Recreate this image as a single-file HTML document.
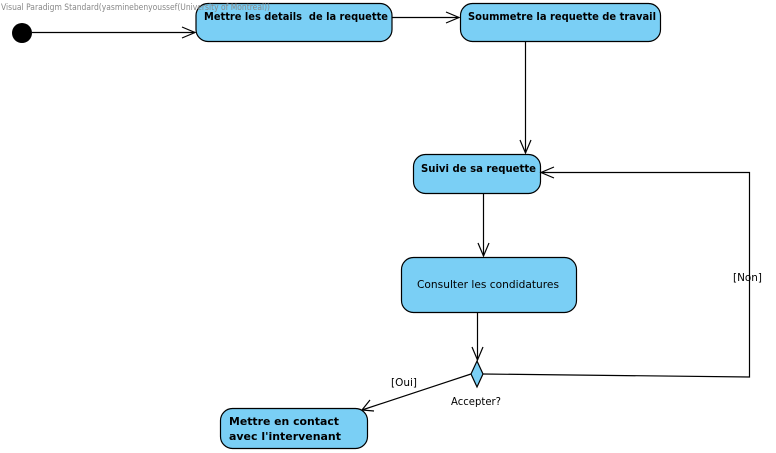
<!DOCTYPE html>
<html><head><meta charset="utf-8"><style>
html,body{margin:0;padding:0;background:#fff;}
svg{display:block;}
text{font-family:"DejaVu Sans","Liberation Sans",sans-serif;fill:#000;}
.b{font-weight:bold;font-size:11px;}
.n{font-size:11px;}
</style></head><body>
<svg width="776" height="453" viewBox="0 0 776 453" xmlns="http://www.w3.org/2000/svg">
<g fill="#7acff5" stroke="#000" stroke-width="1.2">
<rect x="196" y="3.5" width="196" height="38" rx="12"/>
<rect x="460.5" y="3.5" width="200" height="38" rx="12"/>
<rect x="413.5" y="154.5" width="127" height="39" rx="12"/>
<rect x="401.5" y="257.5" width="175" height="55" rx="12"/>
<rect x="220.5" y="408.5" width="147" height="40" rx="12"/>
<polygon points="477,361 483,374 477,387 471,374"/>
</g>
<circle cx="22" cy="33" r="10" fill="#000"/>
<g stroke="#000" stroke-width="1.2" fill="none">
<line x1="32" y1="32.5" x2="195" y2="32.5"/><polyline points="182,27 195,32.5 182,38"/>
<line x1="392" y1="17.5" x2="459" y2="17.5"/><polyline points="446,12 459,17.5 446,23"/>
<line x1="525.5" y1="41" x2="525.5" y2="153"/><polyline points="520,140 525.5,153 531,140"/>
<line x1="483.5" y1="193" x2="483.5" y2="256"/><polyline points="478,243 483.5,256 489,243"/>
<line x1="477.5" y1="312" x2="477.5" y2="360"/><polyline points="472,347 477.5,360 483,347"/>
<polyline points="483,374 749.5,377 749.5,172.5 541,172.5"/><polyline points="554,167 541,172.5 554,178"/>
<line x1="471" y1="374" x2="362" y2="410"/><polyline points="370,400 362,410 374,411"/>
</g>
<text x="1" y="10" font-size="9" style="fill:#888" textLength="269" lengthAdjust="spacingAndGlyphs">Visual Paradigm Standard(yasminebenyoussef(University of Montreal))</text>
<text class="b" x="204" y="20" textLength="184" lengthAdjust="spacingAndGlyphs">Mettre les details&#160; de la requette</text>
<text class="b" x="468" y="20" textLength="188" lengthAdjust="spacingAndGlyphs">Soummetre la requette de travail</text>
<text class="b" x="421" y="172" textLength="115" lengthAdjust="spacingAndGlyphs">Suivi de sa requette</text>
<text class="n" x="417" y="288" textLength="142" lengthAdjust="spacingAndGlyphs">Consulter les condidatures</text>
<text class="b" x="229" y="425" textLength="110" lengthAdjust="spacingAndGlyphs">Mettre en contact</text>
<text class="b" x="229" y="440" textLength="112" lengthAdjust="spacingAndGlyphs">avec l'intervenant</text>
<text class="n" x="391" y="386" textLength="26" lengthAdjust="spacingAndGlyphs">[Oui]</text>
<text class="n" x="451" y="405" textLength="50" lengthAdjust="spacingAndGlyphs">Accepter?</text>
<text class="n" x="733" y="281" textLength="29" lengthAdjust="spacingAndGlyphs">[Non]</text>
</svg>
</body></html>
